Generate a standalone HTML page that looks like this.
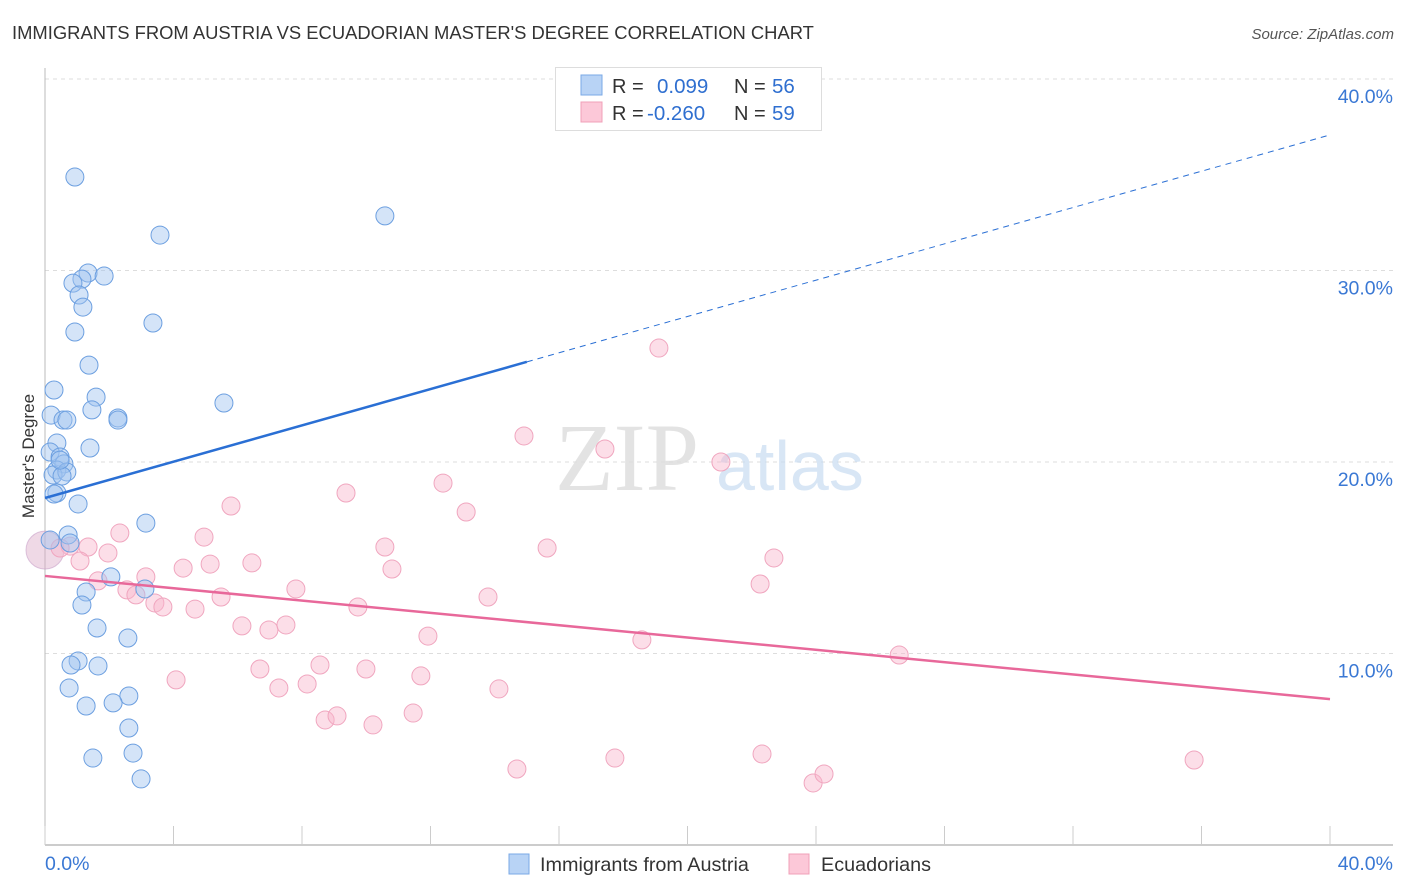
<!DOCTYPE html>
<html><head><meta charset="utf-8"><style>
body{margin:0;background:#fff;font-family:"Liberation Sans",sans-serif}
svg{display:block}
</style></head><body>
<svg id="chart" width="1406" height="892" xmlns="http://www.w3.org/2000/svg">
<text x="12" y="39" font-size="18.4" fill="#333">IMMIGRANTS FROM AUSTRIA VS ECUADORIAN MASTER'S DEGREE CORRELATION CHART</text>
<text x="1394" y="39" font-size="15" fill="#555" font-style="italic" text-anchor="end">Source: ZipAtlas.com</text>
<text x="34" y="456" font-size="17" fill="#333" text-anchor="middle" transform="rotate(-90 34 456)">Master's Degree</text>
<g id="grid"></g>
<g><text x="555" y="490" font-size="96" fill="#ddd" font-family="Liberation Serif,serif" opacity="0.8">ZIP</text><text x="716" y="490" font-size="70" fill="#c8dcf2" opacity="0.7">atlas</text></g>
<g id="marks"></g>
<g>
<rect x="555.5" y="67.5" width="266" height="63" fill="#fff" stroke="#ddd"/>
<rect x="581" y="75" width="21" height="20" fill="#b8d3f5" stroke="#7aa8e6"/>
<rect x="581" y="102" width="21" height="20" fill="#fcc8d8" stroke="#f0a0b8"/>
<text x="612" y="93" font-size="20" fill="#333">R = </text><text x="657" y="93" font-size="20.5" fill="#2f6fd0">0.099</text>
<text x="734" y="93" font-size="20" fill="#333">N = </text><text x="772" y="93" font-size="20.5" fill="#2f6fd0">56</text>
<text x="612" y="120" font-size="20" fill="#333">R = </text><text x="647" y="120" font-size="20.5" fill="#2f6fd0">-0.260</text>
<text x="734" y="120" font-size="20" fill="#333">N = </text><text x="772" y="120" font-size="20.5" fill="#2f6fd0">59</text>
</g>
<g>
<rect x="509" y="854" width="20" height="20" fill="#b8d3f5" stroke="#7aa8e6"/>
<text x="540" y="871" font-size="19.8" fill="#333">Immigrants from Austria</text>
<rect x="789" y="854" width="20" height="20" fill="#fcc8d8" stroke="#f0a0b8"/>
<text x="821" y="871" font-size="19.8" fill="#333">Ecuadorians</text>
</g>
</svg>
<script>
const blueX=[0.93,3.58,10.58,1.34,1.84,1.15,0.87,1.06,1.18,3.36,0.93,1.37,0.28,1.59,5.57,1.46,0.19,0.56,0.68,2.27,2.27,0.37,1.40,0.16,0.47,0.59,0.37,0.25,0.68,0.53,0.37,0.28,1.03,3.14,0.72,0.78,2.05,1.28,3.11,1.15,1.62,2.58,1.03,0.81,1.65,0.75,2.61,1.28,2.12,2.61,2.74,1.49,2.99,0.16,0.47];
const blueY=[34.88,31.85,32.85,29.87,29.71,29.55,29.34,28.72,28.09,27.26,26.79,25.06,23.76,23.39,23.08,22.72,22.45,22.19,22.19,22.30,22.19,20.99,20.73,20.52,20.26,19.90,19.58,19.32,19.48,19.27,18.38,18.33,17.81,16.81,16.19,15.77,14.00,13.21,13.37,12.53,11.33,10.81,9.61,9.40,9.35,8.20,7.78,7.26,7.42,6.11,4.80,4.54,3.45,15.93,20.10];
const pinkX=[19.11,14.91,17.43,21.04,9.37,12.39,13.11,5.79,2.33,4.95,15.63,10.58,22.69,0.78,1.34,1.96,1.09,3.14,4.30,5.14,6.44,10.80,1.65,2.55,2.83,3.42,3.67,4.67,5.48,7.81,9.74,13.79,22.26,6.13,6.97,7.50,11.92,18.58,26.59,4.08,6.69,7.28,8.16,8.56,9.99,11.70,14.13,8.72,9.09,10.21,11.46,14.69,17.74,22.32,23.91,24.25,35.77,0.47];
const pinkY=[25.95,21.36,20.68,20.00,18.38,18.90,17.39,17.70,16.29,16.08,15.51,15.56,14.99,15.61,15.56,15.25,14.83,14.00,14.46,14.67,14.73,14.41,13.79,13.32,13.06,12.64,12.43,12.32,12.95,13.37,12.43,12.95,13.63,11.44,11.23,11.49,10.91,10.71,9.92,8.62,9.19,8.20,8.41,9.40,9.19,8.83,8.15,6.53,6.74,6.27,6.89,3.97,4.54,4.75,3.24,3.71,4.44,15.51];
const bigPoint=[0.0,15.4];
const blueTrend=[18.12,37.08];
const pinkTrend=[14.05,7.62];
const yTicks=[10,20,30,40];
const yTickLabels=["10.0%","20.0%","30.0%","40.0%"];
const xTicks=[0,4,8,12,16,20,24,28,32,36,40];
const NS="http://www.w3.org/2000/svg";
const X=v=>45+v/40*1285;
const Y=v=>845-v/10*191.5;
function mk(tag,attrs,parent){const e=document.createElementNS(NS,tag);for(const k in attrs)e.setAttribute(k,attrs[k]);parent.appendChild(e);return e;}
const grid=document.getElementById('grid'),marks=document.getElementById('marks');
yTicks.forEach((t,i)=>{
 const l=mk('line',{x1:45,x2:1393,y1:Y(t),y2:Y(t),stroke:'#ddd','stroke-dasharray':'4,4'},grid);
 
 
 const tx=mk('text',{x:1393,y:Y(t)+24,'font-size':19.5,fill:'#3a78d4','text-anchor':'end'},grid);
 tx.textContent=yTickLabels[i];
 
 
});
const ax=mk('line',{x1:45,x2:45,y1:68,y2:845,stroke:'#bbb'},grid);


const bx=mk('line',{x1:45,x2:1393,y1:845,y2:845,stroke:'#bbb','stroke-width':1.5},grid);


xTicks.forEach(t=>{
 const l=mk('line',{x1:X(t),x2:X(t),y1:826,y2:845,stroke:'#ccc'},grid);
 
 
});
[['0.0%',45,'start'],['40.0%',1393,'end']].forEach(a=>{
 const tx=mk('text',{x:a[1],y:870,'font-size':19.5,fill:'#3a78d4','text-anchor':a[2]},grid);
 tx.textContent=a[0];
 
 
});
const bp=mk('circle',{cx:X(bigPoint[0]),cy:Y(bigPoint[1]),r:19,fill:'rgba(220,170,200,0.45)',stroke:'rgba(200,160,200,0.6)'},marks);


pinkX.forEach((x,i)=>{
 const c=mk('circle',{cx:X(x),cy:Y(pinkY[i]),r:9,fill:'rgba(248,182,204,0.45)',stroke:'#f0a6bf','stroke-width':1},marks);
 
 
});
blueX.forEach((x,i)=>{
 const c=mk('circle',{cx:X(x),cy:Y(blueY[i]),r:9,fill:'rgba(160,196,240,0.45)',stroke:'#6c9fe0','stroke-width':1},marks);
 
 
});
const bAt=v=>blueTrend[0]+(blueTrend[1]-blueTrend[0])*v/40;
const solidEnd=15;
const l1=mk('line',{x1:X(0),y1:Y(bAt(0)),x2:X(solidEnd),y2:Y(bAt(solidEnd)),stroke:'#2a6fd4','stroke-width':2.5},marks);


const l2=mk('line',{x1:X(solidEnd),y1:Y(bAt(solidEnd)),x2:X(40),y2:Y(bAt(40)),stroke:'#2a6fd4','stroke-width':1,'stroke-dasharray':'6,5'},marks);


const l3=mk('line',{x1:X(0),y1:Y(pinkTrend[0]),x2:X(40),y2:Y(pinkTrend[1]),stroke:'#e8689a','stroke-width':2.5},marks);


</script>
</body></html>
